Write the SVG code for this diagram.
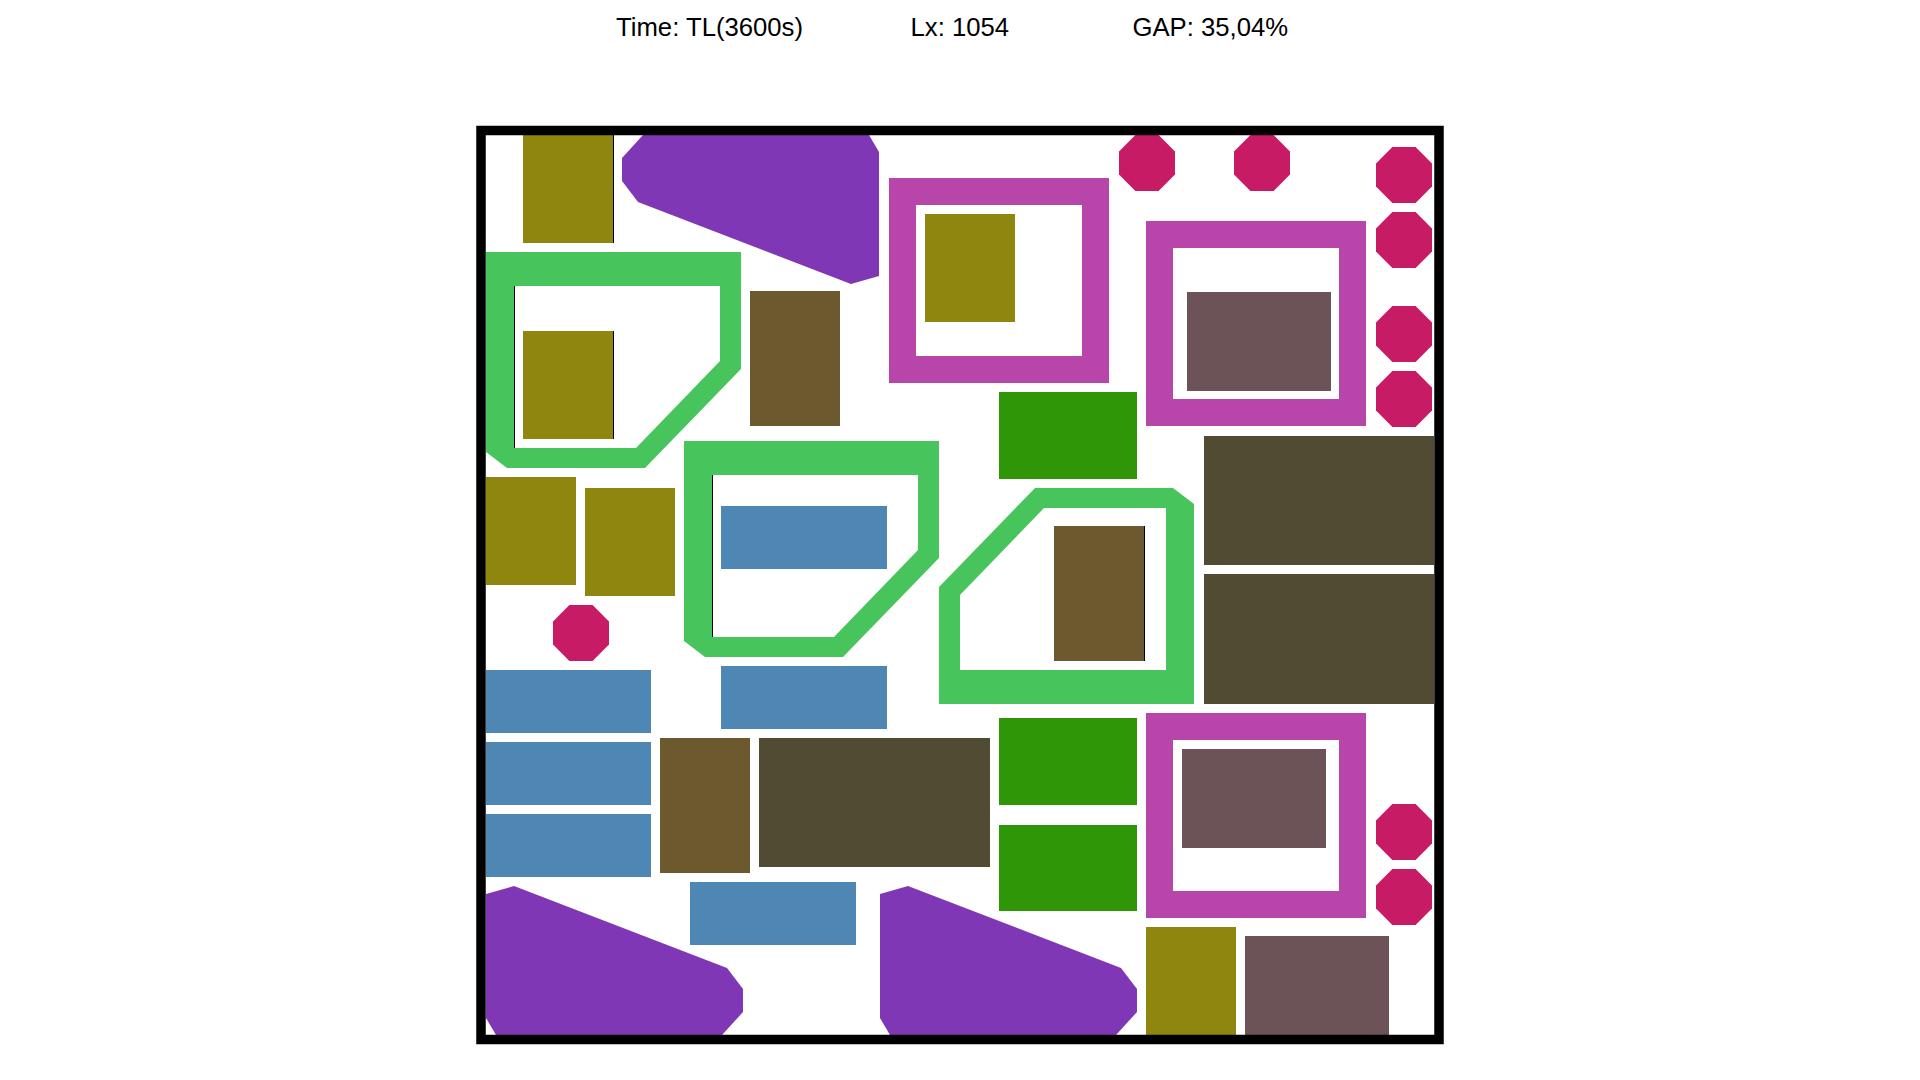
<svg xmlns="http://www.w3.org/2000/svg" xmlns:xlink="http://www.w3.org/1999/xlink" width="1920" height="1080" viewBox="0 0 1920 1080">
<style>
.t{font-family:"Liberation Sans",Arial,sans-serif;font-size:25.7px;fill:#000}
.ol{fill:#8F8610}.br{fill:#6C5A2E}.dk{fill:#514B33}.bl{fill:#4F87B4}.dg{fill:#2F9607}.mv{fill:#6B5357}
.pu{fill:#7F37B5}.gf{fill:#48C45C;fill-rule:evenodd}.mf{fill:#B845A9;fill-rule:evenodd}.oc{fill:#C71B65}
.ln{fill:#000}
</style>
<defs>
<polygon id="oct" points="16.4,0 39.6,0 56,16.4 56,39.6 39.6,56 16.4,56 0,39.6 0,16.4"/>
<polygon id="pur" points="0,8 28,0 241,82 257,103 257,126 236,149 10,149 0,132"/>
<path id="gfr" d="M0,0 H255 V117 L159,216 H21 L0,200 Z M28,34 V196 H150 L234,109 V34 Z"/>
<path id="mfr" d="M0,0 H220 V205 H0 Z M27,27 V178 H193 V27 Z"/>
</defs>
<rect width="1920" height="1080" fill="#fff"/>
<g id="header">
<text class="t" x="616" y="36">Time: TL(3600s)</text>
<text class="t" x="910.5" y="36">Lx: 1054</text>
<text class="t" x="1132.5" y="36">GAP: 35,04%</text>
</g>
<g id="frames">
<use id="green-frame-1" href="#gfr" xlink:href="#gfr" class="gf" x="486" y="252"/>
<use id="green-frame-2" href="#gfr" xlink:href="#gfr" class="gf" x="684" y="441"/>
<use id="green-frame-3" href="#gfr" xlink:href="#gfr" class="gf" transform="translate(1194,704) rotate(180)"/>
<use id="mag-frame-1" href="#mfr" xlink:href="#mfr" class="mf" x="889" y="178"/>
<use id="mag-frame-2" href="#mfr" xlink:href="#mfr" class="mf" x="1146" y="221"/>
<use id="mag-frame-3" href="#mfr" xlink:href="#mfr" class="mf" x="1146" y="713"/>
</g>
<g id="purple">
<use href="#pur" xlink:href="#pur" class="pu" transform="translate(879,284) rotate(180)"/>
<use href="#pur" xlink:href="#pur" class="pu" x="486" y="886"/>
<use href="#pur" xlink:href="#pur" class="pu" x="880" y="886"/>
</g>
<g id="olive">
<rect class="ol" x="523" y="135" width="90" height="108"/>
<rect class="ol" x="523" y="331" width="90" height="108"/>
<rect class="ol" x="925" y="214" width="90" height="108"/>
<rect class="ol" x="486" y="477" width="90" height="108"/>
<rect class="ol" x="585" y="488" width="90" height="108"/>
<rect class="ol" x="1146" y="927" width="90" height="108"/>
</g>
<g id="brown">
<rect class="br" x="750" y="291" width="90" height="135"/>
<rect class="br" x="660" y="738" width="90" height="135"/>
<rect class="br" x="1054" y="526" width="90" height="135"/>
</g>
<g id="darkolive">
<rect class="dk" x="1204" y="436" width="230" height="129"/>
<rect class="dk" x="1204" y="574" width="230" height="130"/>
<rect class="dk" x="759" y="738" width="231" height="129"/>
</g>
<g id="blue">
<rect class="bl" x="486" y="670" width="165" height="63"/>
<rect class="bl" x="486" y="742" width="165" height="63"/>
<rect class="bl" x="486" y="814" width="165" height="63"/>
<rect class="bl" x="721" y="506" width="166" height="63"/>
<rect class="bl" x="721" y="666" width="166" height="63"/>
<rect class="bl" x="690" y="882" width="166" height="63"/>
</g>
<g id="darkgreen">
<rect class="dg" x="999" y="392" width="138" height="87"/>
<rect class="dg" x="999" y="718" width="138" height="87"/>
<rect class="dg" x="999" y="825" width="138" height="86"/>
</g>
<g id="mauve">
<rect class="mv" x="1187" y="292" width="144" height="99"/>
<rect class="mv" x="1182" y="749" width="144" height="99"/>
<rect class="mv" x="1245" y="936" width="144" height="99"/>
</g>
<g id="octagons">
<use href="#oct" xlink:href="#oct" class="oc" x="1119" y="135"/>
<use href="#oct" xlink:href="#oct" class="oc" x="1234" y="135"/>
<use href="#oct" xlink:href="#oct" class="oc" x="1376" y="147"/>
<use href="#oct" xlink:href="#oct" class="oc" x="1376" y="212"/>
<use href="#oct" xlink:href="#oct" class="oc" x="1376" y="306"/>
<use href="#oct" xlink:href="#oct" class="oc" x="1376" y="371"/>
<use href="#oct" xlink:href="#oct" class="oc" x="553" y="605"/>
<use href="#oct" xlink:href="#oct" class="oc" x="1376" y="804"/>
<use href="#oct" xlink:href="#oct" class="oc" x="1376" y="869"/>
</g>
<g id="edges">
<rect class="ln" x="613" y="135" width="1" height="108"/>
<rect class="ln" x="613" y="331" width="1" height="108"/>
<rect class="ln" x="514" y="286" width="1" height="162"/>
<rect class="ln" x="712" y="475" width="1" height="162"/>
<rect class="ln" x="1144" y="526" width="1" height="135"/>
</g>
<rect id="container" x="481" y="130.5" width="958" height="909" fill="none" stroke="#000" stroke-width="9.5"/>
</svg>
